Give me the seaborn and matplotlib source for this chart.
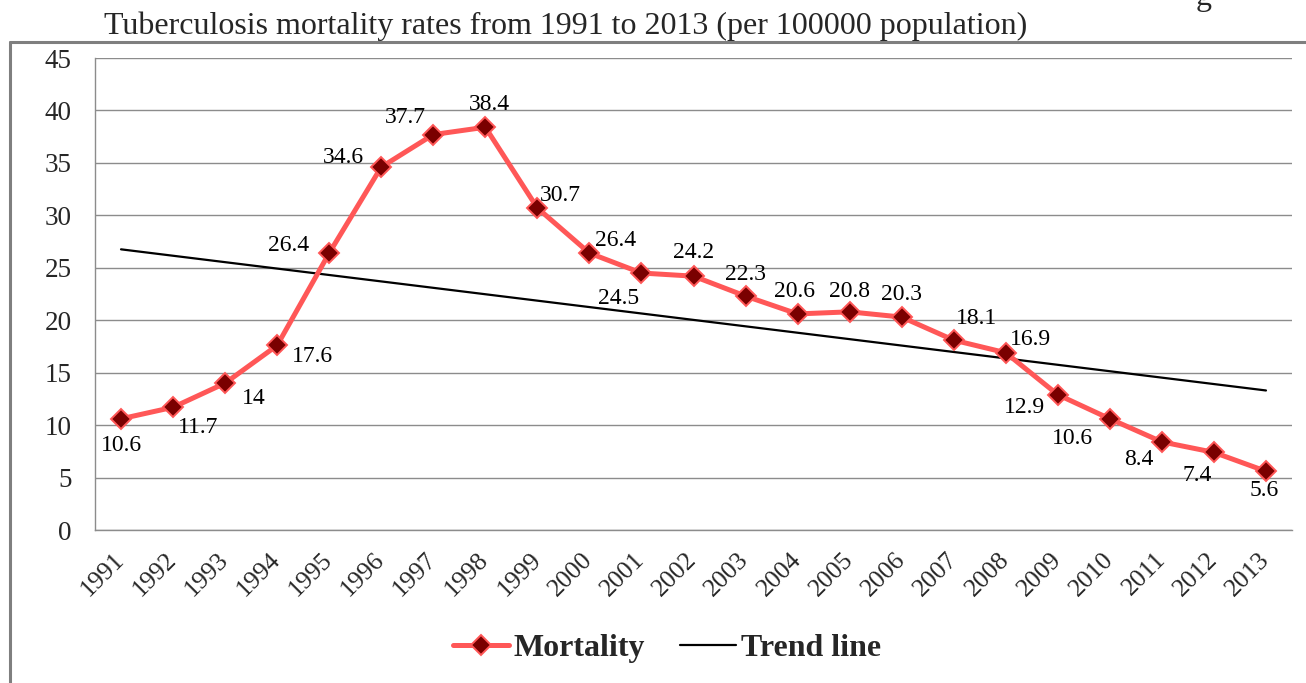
import numpy as np
import matplotlib
matplotlib.use('Agg')
import matplotlib.pyplot as plt
from matplotlib.lines import Line2D
import seaborn as sns

# ── data ──────────────────────────────────────────────
YEARS = [str(y) for y in range(1991, 2014)]
MORTALITY = [10.6, 11.7, 14, 17.6, 26.4, 34.6, 37.7, 38.4, 30.7, 26.4, 24.5, 24.2,
             22.3, 20.6, 20.8, 20.3, 18.1, 16.9, 12.9, 10.6, 8.4, 7.4, 5.6]
LABELS = ['10.6', '11.7', '14', '17.6', '26.4', '34.6', '37.7', '38.4', '30.7', '26.4',
          '24.5', '24.2', '22.3', '20.6', '20.8', '20.3', '18.1', '16.9', '12.9', '10.6',
          '8.4', '7.4', '5.6']

# label offsets in pixels (dx, dy)
LABEL_OFFSETS = [(0, -27), (25, -20), (29, -15), (35, -11), (-41, 8), (-38, 10),
                 (-28, 17), (4, 23), (23, 12), (26, 13), (-23, -25), (0, 24),
                 (0, 22), (-3, 22), (0, 20), (0, 23), (23, 22), (25, 13),
                 (-33, -13), (-37, -20), (-23, -18), (-17, -23), (-2, -19)]

sns.set_theme(style='white')
plt.rcParams['font.family'] = ['Liberation Serif', 'DejaVu Serif']

idx = np.arange(len(YEARS))
vals = np.array(MORTALITY)
coef = np.polyfit(idx, vals, 1)
trend = np.polyval(coef, idx)

fig = plt.figure(figsize=(13.06, 6.83), dpi=100)
ax = fig.add_axes([95 / 1306, 1 - 530 / 683, (1292 - 95) / 1306, (530 - 58) / 683])

GRID = '#8c8c8c'
RED = '#ff5757'
DARK = '#7a0000'
MS = 10.5
LW = 3.6

sns.lineplot(x=idx, y=vals, ax=ax, color=RED, linewidth=LW, marker='D',
             markersize=MS, markerfacecolor=DARK, markeredgecolor=RED,
             markeredgewidth=1.4, label='Mortality', zorder=4)
sns.lineplot(x=idx, y=trend, ax=ax, color='black', linewidth=1.6,
             label='Trend line', zorder=3)

for i, (v, lab, off) in enumerate(zip(vals, LABELS, LABEL_OFFSETS)):
    ax.annotate(lab, (i, v), xytext=off, textcoords='offset pixels',
                ha='center', va='center', fontsize=17, color='black', zorder=5)

ax.set_xlim(-0.5, len(YEARS) - 0.5)
ax.set_ylim(0, 45)
ax.set_yticks(np.arange(0, 46, 5))
ax.yaxis.grid(True, color=GRID, linewidth=1)
ax.set_axisbelow(True)

ax.set_xticks(idx)
ax.set_xticklabels(YEARS, rotation=45, ha='right', va='center',
                   rotation_mode='anchor', fontsize=18.5)
ax.set_xticks(np.arange(-0.5, len(YEARS), 1), minor=True)
ax.tick_params(axis='x', which='major', length=0, pad=19)
ax.tick_params(axis='x', which='minor', length=8, width=1, color=GRID, direction='out')
ax.tick_params(axis='y', length=8, width=1, color=GRID, direction='out',
               labelsize=19.5, pad=9)
ax.set_xlabel('')
ax.set_ylabel('')

for side in ['top', 'right']:
    ax.spines[side].set_visible(False)
for side in ['left', 'bottom']:
    ax.spines[side].set_color(GRID)
    ax.spines[side].set_linewidth(1)

ax.get_legend().remove()
handles = [Line2D([], [], color=RED, linewidth=LW, marker='D', markersize=MS,
                  markerfacecolor=DARK, markeredgecolor=RED, markeredgewidth=1.4),
           Line2D([], [], color='black', linewidth=1.6)]
fig.legend(handles, ['Mortality', 'Trend line'], loc='center',
           bbox_to_anchor=(667 / 1306, 1 - 648 / 683), ncol=2, frameon=False,
           prop={'weight': 'bold', 'size': 23}, handlelength=1.75,
           handletextpad=0.15, columnspacing=1.1)

# outer frame and title
top = 1 - 42 / 683
fig.add_artist(Line2D([10 / 1306, 1], [top, top], color='#7f7f7f', linewidth=2.2,
                      transform=fig.transFigure))
fig.add_artist(Line2D([10 / 1306, 10 / 1306], [0, top], color='#7f7f7f', linewidth=2.2,
                      transform=fig.transFigure))
fig.text(104 / 1306, 1 - 26 / 683,
         'Tuberculosis mortality rates from 1991 to 2013 (per 100000 population)',
         ha='left', va='center', fontsize=23)
fig.text(1196 / 1306, 1 - 5 / 683, 'g', ha='left', va='baseline', fontsize=23)

fig.savefig('out.png', dpi=100)
